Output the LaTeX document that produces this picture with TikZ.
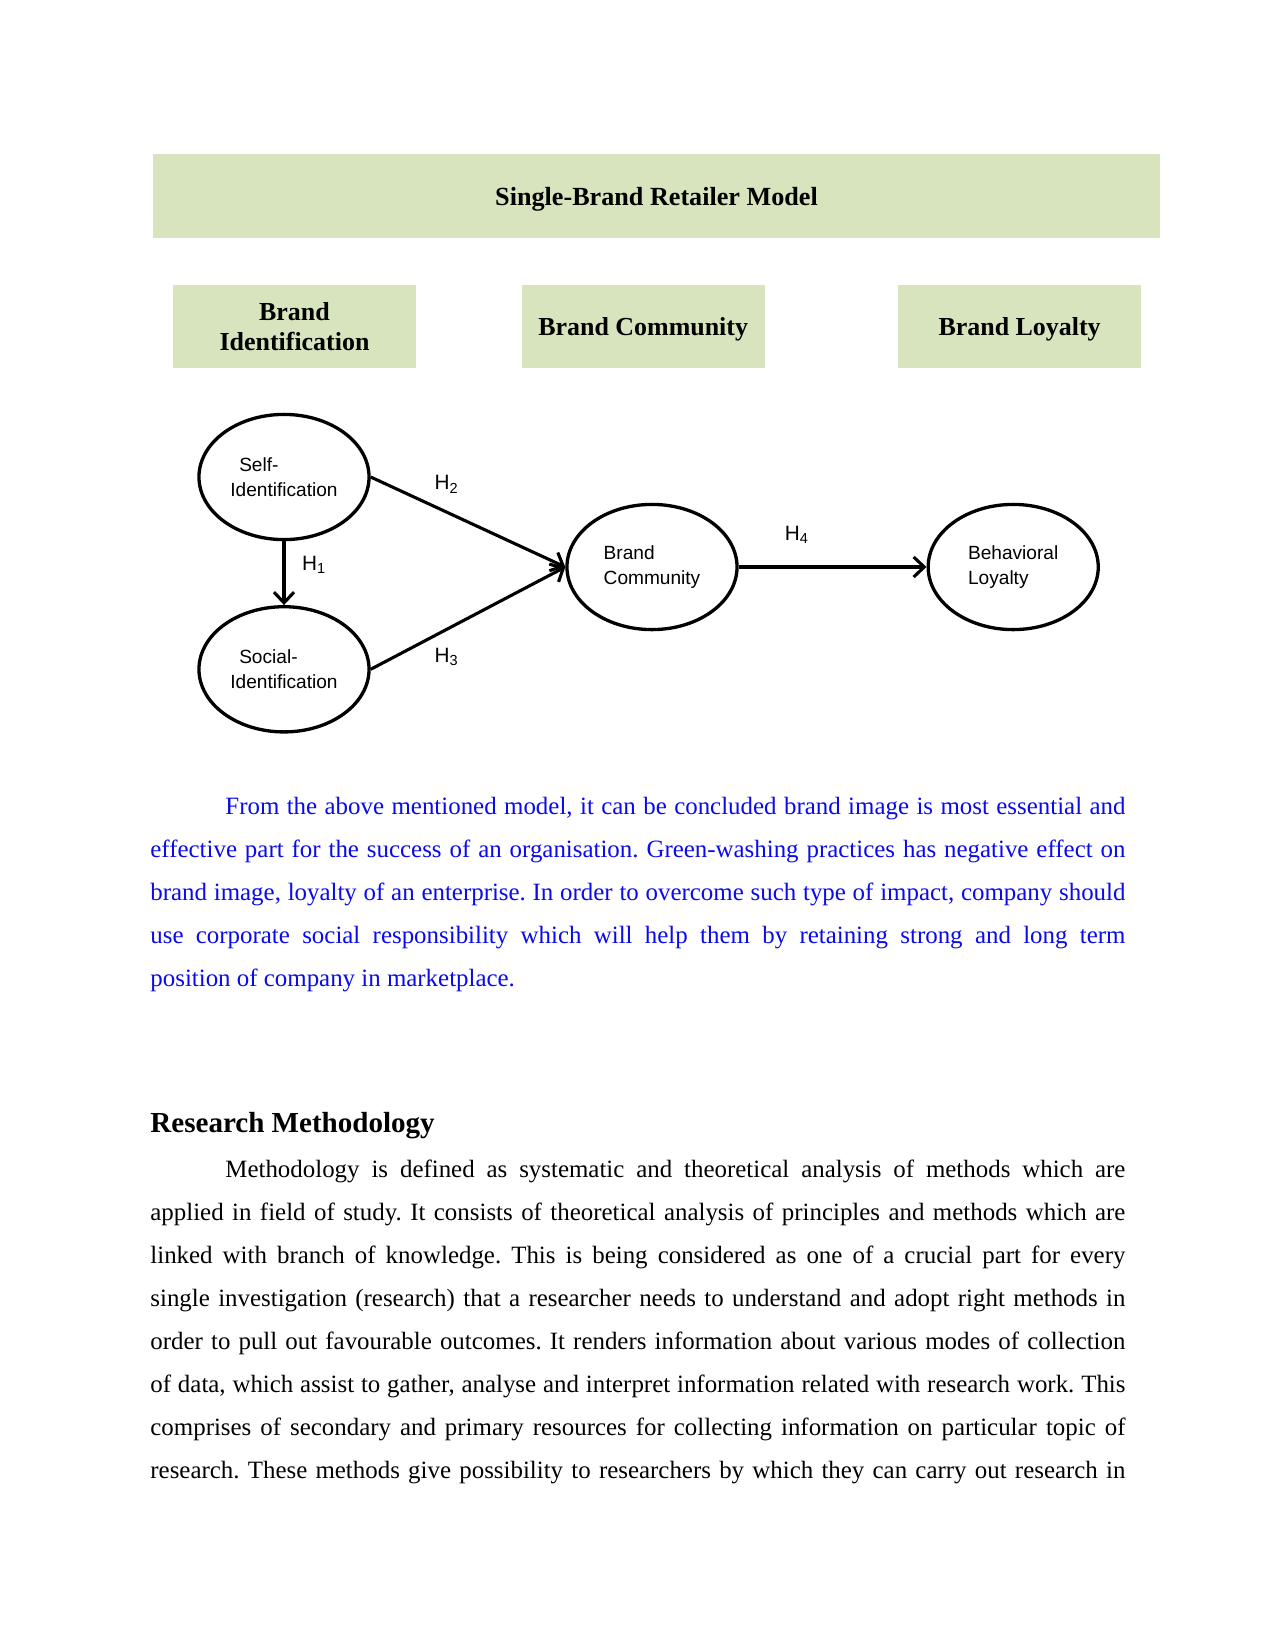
\documentclass[tikz,border=0pt]{standalone}
\usepackage{fontspec}
\setmainfont{Liberation Serif}
\newfontfamily\diagsans{Liberation Sans}
\usepackage{xcolor}
\usepackage{tikz}
\usetikzlibrary{shapes.geometric, arrows.meta, positioning}
\frenchspacing
\definecolor{boxgreen}{RGB}{215,228,189}
\definecolor{textblue}{RGB}{10,10,235}
\tikzstyle{header} = [rectangle, minimum width=170.5mm, minimum height=14.2mm, text depth=0pt, text centered, fill=boxgreen, font=\fontsize{12.6}{15}\selectfont\bfseries]
\tikzstyle{layer} = [rectangle, minimum width=41.1mm, minimum height=14.05mm, align=center, fill=boxgreen, font=\fontsize{12.5}{14.6}\selectfont\bfseries]
\tikzstyle{construct} = [ellipse, draw=black, line width=1.6pt, minimum width=28.8mm, minimum height=21.2mm, inner sep=0pt, align=left, font=\diagsans\fontsize{9.2}{12}\selectfont]
\tikzstyle{arrow} = [line width=1.5pt, ->, >={Straight Barb[length=1.8mm, width=3.4mm]}]
\tikzstyle{hyp} = [inner sep=0pt, font=\diagsans\fontsize{10}{12}\selectfont]
\tikzstyle{para} = [anchor=base west, inner sep=0pt, text width=6.5in, align=justify, font=\fontsize{12}{20.74}\selectfont]

\begin{document}
\begin{tikzpicture}[x=0.16933mm, y=-0.16933mm]
  \fill[white] (0,0) rectangle (1275,1651);
  \useasboundingbox (0,0) rectangle (1275,1651);

  % model header and the three layers
  \node (model) [header] at (656.5,196) {Single-Brand Retailer Model};
  \node (brandid) [layer] at (294.5,326.5) {Brand\\Identification};
  \node (brandcom) [layer, text depth=0pt, right=17.8mm of brandid] {Brand Community};
  \node (brandloy) [layer, text depth=0pt, right=22.5mm of brandcom] {Brand Loyalty};

  % constructs
  \node (selfid) [construct] at (284,477) {\hspace*{1.5mm}Self-\\Identification};
  \node (socid) [construct, below=10.8mm of selfid] {\hspace*{1.5mm}Social-\\Identification};
  \node (community) [construct] at (652,567) {Brand\\Community};
  \node (behav) [construct, right=31.8mm of community] {Behavioral\\Loyalty};

  \draw[arrow] (selfid) -- node[hyp, pos=.375, xshift=5.1mm] {H\textsubscript{1}} (socid);
  \draw[arrow] (selfid.east) -- node[hyp, pos=.39, yshift=4.7mm] {H\textsubscript{2}} (community.west);
  \draw[arrow] (socid.east) -- node[hyp, pos=.39, yshift=-4.7mm] {H\textsubscript{3}} (community.west);
  \draw[arrow] (community) -- node[hyp, pos=.31, yshift=5.4mm] {H\textsubscript{4}} (behav);

  % text below the model
  \node (conclude) [para, text=textblue] at (150,814) {\tolerance=9999\hspace*{0.5in}From the above mentioned model, it can be concluded brand image is most essential and\linebreak effective part for the success of an organisation. Green-washing practices has negative effect on\linebreak brand image, loyalty of an enterprise. In order to overcome such type of impact, company should\linebreak use corporate social responsibility which will help them by retaining strong and long term\linebreak position of company in marketplace.};
  \node (rmhead) [anchor=base west, inner sep=0pt, font=\fontsize{14}{16}\selectfont\bfseries] at (150,1132) {Research Methodology};
  \node (method) [para] at (150,1177) {\tolerance=9999\hspace*{0.5in}Methodology is defined as systematic and theoretical analysis of methods which are\linebreak applied in field of study. It consists of theoretical analysis of principles and methods which are\linebreak linked with branch of knowledge. This is being considered as one of a crucial part for every\linebreak single investigation (research) that a researcher needs to understand and adopt right methods in\linebreak order to pull out favourable outcomes. It renders information about various modes of collection\linebreak of data, which assist to gather, analyse and interpret information related with research work. This\linebreak comprises of secondary and primary resources for collecting information on particular topic of\linebreak research. These methods give possibility to researchers by which they can carry out research in{\parfillskip=0pt\par}};
\end{tikzpicture}
\end{document}
